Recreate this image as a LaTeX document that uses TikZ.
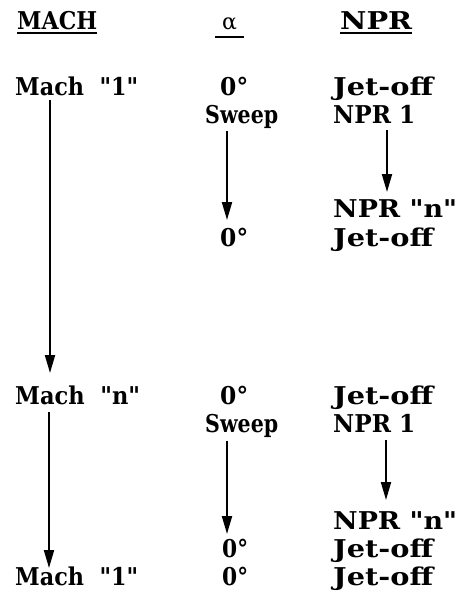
\documentclass[tikz,border=0pt]{standalone}
\usepackage{fontspec}
\usepackage{graphicx}
\setmainfont{DejaVu Serif}[Ligatures=TeXOff]
\usetikzlibrary{arrows.meta}
\newcommand\qq{\symbol{34}}
\newcommand\fw[2]{\resizebox{#1}{\height}{#2}}
\begin{document}
\begin{tikzpicture}[x=1pt,y=-1pt,
  txt/.style={anchor=base west, inner sep=0pt, font=\bfseries\fontsize{24.5}{25}\selectfont},
  ul/.style={line width=1.6pt},
  arr/.style={line width=2pt, -{Triangle[length=18pt,width=10pt]}}]
\useasboundingbox (0,0) rectangle (458,594);
% headers
\node[txt] (hm) at (17,30) {\fw{80pt}{MACH}};
\node[txt, font=\fontsize{22}{22}\selectfont] (ha) at (222,30) {α};
\node[txt] (hn) at (340,30) {\fw{72pt}{NPR}};
\draw[ul] ([yshift=-3pt]hm.base west) -- ([yshift=-3pt]hm.base east);
\draw[ul] ([xshift=-7pt,yshift=-7pt]ha.base west) -- ([xshift=7pt,yshift=-7pt]ha.base east);
\draw[ul] ([yshift=-3pt]hn.base west) -- ([yshift=-3pt]hn.base east);
% block 1
\node[txt] (m1) at (15,95) {\fw{123pt}{Mach\ \ \qq1\qq}};
\node[txt] (a1) at (220,95) {\fw{28pt}{0°}};
\node[txt] (n1) at (333,95) {\fw{100pt}{Jet-off}};
\node[txt] (s1) at (205,123) {\fw{73pt}{Sweep}};
\node[txt] (p1) at (333,123) {\fw{82pt}{NPR 1}};
\node[txt] (q1) at (333,217) {\fw{124pt}{NPR \qq n\qq}};
\node[txt] (b1) at (220,246) {\fw{28pt}{0°}};
\node[txt] (j1) at (333,246) {\fw{100pt}{Jet-off}};
% block 2
\node[txt] (m2) at (15,404) {\fw{125pt}{Mach\ \ \qq n\qq}};
\node[txt] (a2) at (220,404) {\fw{28pt}{0°}};
\node[txt] (n2) at (333,404) {\fw{100pt}{Jet-off}};
\node[txt] (s2) at (205,432) {\fw{73pt}{Sweep}};
\node[txt] (p2) at (333,432) {\fw{82pt}{NPR 1}};
\node[txt] (q2) at (333,529) {\fw{124pt}{NPR \qq n\qq}};
\node[txt] (b2) at (222,557) {\fw{26pt}{0°}};
\node[txt] (j2) at (333,557) {\fw{100pt}{Jet-off}};
\node[txt] (m3) at (15,585) {\fw{123pt}{Mach\ \ \qq1\qq}};
\node[txt] (a3) at (222,585) {\fw{26pt}{0°}};
\node[txt] (j3) at (333,585) {\fw{100pt}{Jet-off}};
% arrow end points
\coordinate (e1s) at (50,100);  \coordinate (e1e) at (50,373);
\coordinate (e2s) at (227,131); \coordinate (e2e) at (227,220);
\coordinate (e3s) at (387,130); \coordinate (e3e) at (387,192);
\coordinate (e4s) at (49,412);  \coordinate (e4e) at (49,568);
\coordinate (e5s) at (227,441); \coordinate (e5e) at (227,534);
\coordinate (e6s) at (386,440); \coordinate (e6e) at (386,500);
\draw[arr] (e1s) -- (e1e);
\draw[arr] (e2s) -- (e2e);
\draw[arr] (e3s) -- (e3e);
\draw[arr] (e4s) -- (e4e);
\draw[arr] (e5s) -- (e5e);
\draw[arr] (e6s) -- (e6e);
\end{tikzpicture}
\end{document}
